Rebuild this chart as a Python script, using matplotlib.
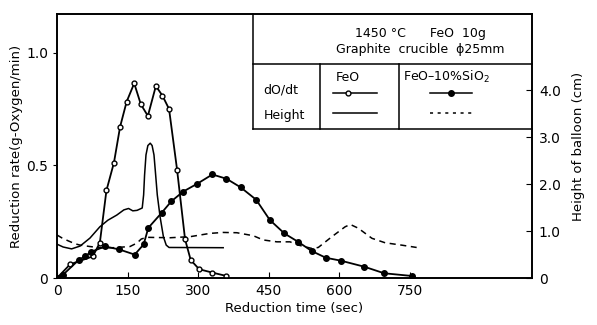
import matplotlib
matplotlib.use("Agg")
import matplotlib.pyplot as plt
from matplotlib.ticker import FuncFormatter

# dO/dt, FeO (open circles)
feo_t = [0, 28, 76, 91, 105, 121, 134, 148, 164, 178, 193, 210, 224, 238,
         255, 272, 284, 302, 330, 360]
feo_rate = [0.0, 0.061, 0.096, 0.157, 0.389, 0.513, 0.672, 0.784, 0.865, 0.772,
            0.72, 0.853, 0.81, 0.751, 0.482, 0.172, 0.08, 0.039, 0.024, 0.009]

# dO/dt, FeO-10%SiO2 (filled circles)
sio2_t = [0, 12, 47, 60, 72, 102, 132, 165, 184, 194, 222, 243, 268, 298,
          330, 360, 390, 423, 452, 483, 512, 541, 571, 603, 653, 695, 754]
sio2_rate = [0.0, 0.013, 0.082, 0.096, 0.116, 0.14, 0.127, 0.104, 0.149, 0.223,
             0.289, 0.341, 0.384, 0.419, 0.46, 0.441, 0.403, 0.348, 0.258, 0.198,
             0.161, 0.12, 0.09, 0.077, 0.05, 0.021, 0.009]

# balloon height, FeO (solid)
feo_h_t = [0, 13, 31, 49, 70, 91, 108, 127, 142, 152, 161, 170, 181, 184,
           186, 189, 193, 198, 202, 206, 209, 213, 219, 226, 232, 238, 353]
feo_h = [0.72, 0.66, 0.62, 0.68, 0.85, 1.09, 1.23, 1.34, 1.45, 1.48, 1.43, 1.44,
         1.49, 1.77, 2.19, 2.62, 2.82, 2.87, 2.82, 2.62, 2.26, 1.77, 1.30, 0.88,
         0.70, 0.65, 0.645]

# balloon height, FeO-10%SiO2 (dashed)
sio2_h_t = [0, 11, 24, 38, 49, 70, 91, 120, 155, 170, 179, 191, 240, 283, 325,
            353, 382, 417, 438, 467, 495, 513, 541, 555, 584, 612, 623, 640, 669,
            697, 732, 764]
sio2_h = [0.915, 0.85, 0.79, 0.73, 0.70, 0.67, 0.645, 0.645, 0.67, 0.745, 0.83,
          0.866, 0.857, 0.88, 0.95, 0.97, 0.964, 0.90, 0.81, 0.77, 0.77, 0.70,
          0.63, 0.65, 0.88, 1.09, 1.14, 1.06, 0.845, 0.75, 0.70, 0.65]

x_ticks = [0, 150, 300, 450, 600, 750]
rate_ticks = [0, 0.5, 1.0]
height_ticks = [0, 1.0, 2.0, 3.0, 4.0]

fig = plt.figure(figsize=(5.97, 3.25), dpi=100)
ax = fig.add_axes([0.0955, 0.1446, 0.7956, 0.8123])
ax2 = ax.twinx()

ax.plot(feo_t, feo_rate, color="black", lw=1.3, marker="o", ms=3.5,
        mfc="white", mec="black", mew=1.0, zorder=3)
ax.plot(sio2_t, sio2_rate, color="black", lw=1.3, marker="o", ms=4,
        mfc="black", mec="black", zorder=3)
ax2.plot(feo_h_t, feo_h, color="black", lw=1.1)
ax2.plot(sio2_h_t, sio2_h, color="black", lw=1.1, ls=(0, (4, 3)))

ax.set_xlim(0, 1009)
ax.set_ylim(0, 1.173)
ax2.set_ylim(0, 5.62)

fmt = FuncFormatter(lambda v, p: "0" if v == 0 else f"{v:.1f}")
ax.set_xticks(x_ticks)
ax.set_yticks(rate_ticks)
ax.yaxis.set_major_formatter(fmt)
ax2.set_yticks(height_ticks)
ax2.yaxis.set_major_formatter(fmt)

ax.tick_params(axis="x", direction="in", length=4, labelsize=10, pad=4)
ax.tick_params(axis="y", direction="out", length=3, labelsize=10)
ax2.tick_params(axis="y", direction="in", length=4, labelsize=10, pad=5)
for a in (ax, ax2):
    for s in a.spines.values():
        s.set_linewidth(1.2)

ax.set_xlabel("Reduction time (sec)", fontsize=9.5, labelpad=3)
ax.set_ylabel("Reduction rate(g-Oxygen/min)", fontsize=9.5, labelpad=2)
ax2.set_ylabel("Height of balloon (cm)", fontsize=9.5, labelpad=8)

# legend table in the upper right corner
tr = ax.transAxes
kw = dict(transform=tr, color="black", lw=1.1, clip_on=False)
ax.plot([0.4126, 0.4126], [1.0, 0.564], **kw)
ax.plot([0.4126, 1.0], [0.81, 0.81], **kw)
ax.plot([0.4126, 1.0], [0.564, 0.564], **kw)
ax.plot([0.5537, 0.5537], [0.81, 0.564], **kw)
ax.plot([0.72, 0.72], [0.81, 0.564], **kw)

tk = dict(transform=tr, fontsize=9, va="center")
ax.text(0.765, 0.928, "1450 °C      FeO  10g", ha="center", **tk)
ax.text(0.765, 0.864, "Graphite  crucible  ϕ25mm", ha="center", **tk)
ax.text(0.435, 0.712, "dO/dt", ha="left", **tk)
ax.text(0.435, 0.617, "Height", ha="left", **tk)
ax.text(0.613, 0.761, "FeO", ha="center", **tk)
ax.text(0.82, 0.761, "FeO–10%SiO$_2$", ha="center", **tk)

ax.plot([0.581, 0.674], [0.70, 0.70], **kw)
ax.plot([0.613], [0.70], marker="o", ms=3.5, mfc="white", mec="black",
        transform=tr, clip_on=False)
ax.plot([0.581, 0.674], [0.625, 0.625], **kw)
ax.plot([0.785, 0.874], [0.70, 0.70], **kw)
ax.plot([0.829], [0.70], marker="o", ms=4, color="black",
        transform=tr, clip_on=False)
ax.plot([0.785, 0.88], [0.625, 0.625], transform=tr, color="black", lw=1.1,
        ls=(0, (2, 3)), clip_on=False)

fig.savefig("out.png", dpi=100)
